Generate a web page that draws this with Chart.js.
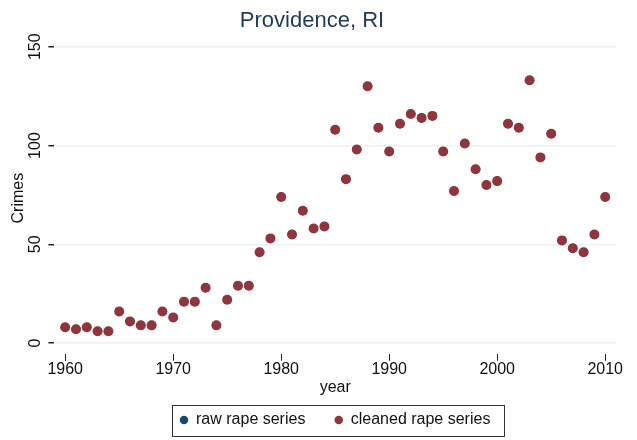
<!DOCTYPE html>
<html>
<head>
<meta charset="utf-8">
<script src="https://cdn.jsdelivr.net/npm/chart.js@4"></script>
<style>
  html, body { margin: 0; padding: 0; background: #fff; }
  #wrap { width: 637px; height: 440px; }
</style>
</head>
<body>
<div id="wrap"><canvas id="crime-chart" width="637" height="440"></canvas></div>
<script>
const years = [
  1960, 1961, 1962, 1963, 1964, 1965, 1966, 1967, 1968, 1969,
  1970, 1971, 1972, 1973, 1974, 1975, 1976, 1977, 1978, 1979,
  1980, 1981, 1982, 1983, 1984, 1985, 1986, 1987, 1988, 1989,
  1990, 1991, 1992, 1993, 1994, 1995, 1996, 1997, 1998, 1999,
  2000, 2001, 2002, 2003, 2004, 2005, 2006, 2007, 2008, 2009, 2010
];
const rawRape = [
  8, 7, 8, 6, 6, 16, 11, 9, 9, 16,
  13, 21, 21, 28, 9, 22, 29, 29, 46, 53,
  74, 55, 67, 58, 59, 108, 83, 98, 130, 109,
  97, 111, 116, 114, 115, 97, 77, 101, 88, 80,
  82, 111, 109, 133, 94, 106, 52, 48, 46, 55, 74
];
const cleanedRape = [
  8, 7, 8, 6, 6, 16, 11, 9, 9, 16,
  13, 21, 21, 28, 9, 22, 29, 29, 46, 53,
  74, 55, 67, 58, 59, 108, 83, 98, 130, 109,
  97, 111, 116, 114, 115, 97, 77, 101, 88, 80,
  82, 111, 109, 133, 94, 106, 52, 48, 46, 55, 74
];
const xTicks = [1960, 1970, 1980, 1990, 2000, 2010];
const yTicks = [0, 50, 100, 150];

const FONT = "'Liberation Sans', Arial, sans-serif";

function toPoints(ys) {
  return years.map((y, i) => ({ x: y, y: ys[i] }));
}

// box round the legend, like Stata draws it
const legendBox = {
  id: "legendBox",
  afterDraw(chart) {
    const lg = chart.legend;
    if (!lg || !lg.legendHitBoxes || !lg.legendHitBoxes.length) return;
    const boxes = lg.legendHitBoxes;
    const l = Math.min(...boxes.map((b) => b.left));
    const r = Math.max(...boxes.map((b) => b.left + b.width));
    const t = Math.min(...boxes.map((b) => b.top));
    const bt = Math.max(...boxes.map((b) => b.top + b.height));
    const ctx = chart.ctx;
    ctx.save();
    ctx.strokeStyle = "#333";
    ctx.lineWidth = 1;
    ctx.strokeRect(Math.round(l - 8) + 0.5, Math.round(t - 7) + 0.5, Math.round(r - l + 22), Math.round(bt - t + 15));
    ctx.restore();
  },
};

document.addEventListener("DOMContentLoaded", () => {
  const el = document.getElementById("crime-chart");
  new Chart(el, {
    type: "scatter",
    data: {
      datasets: [
        {
          label: "raw rape series",
          data: toPoints(rawRape),
          backgroundColor: "#1a476f",
          borderColor: "#1a476f",
          borderWidth: 0,
          pointRadius: 4.5,
          pointHoverRadius: 4.5,
          order: 2,
        },
        {
          label: "cleaned rape series",
          data: toPoints(cleanedRape),
          backgroundColor: "#90353b",
          borderColor: "#90353b",
          borderWidth: 0,
          pointRadius: 5,
          pointHoverRadius: 5,
          order: 1,
        },
      ],
    },
    options: {
      responsive: false,
      animation: false,
      layout: { padding: { left: 8, right: 21, top: 2, bottom: 4 } },
      plugins: {
        title: {
          display: true,
          text: "Providence, RI",
          color: "#1f3a5f",
          font: { family: FONT, size: 22, weight: "normal" },
          padding: { top: 6, bottom: 8 },
        },
        legend: {
          position: "bottom",
          fullSize: false,
          maxHeight: 40,
          labels: {
            usePointStyle: true,
            pointStyle: "circle",
            boxWidth: 8,
            boxHeight: 6,
            padding: 16,
            color: "#111",
            font: { family: FONT, size: 16 },
            sort: (a, b) => a.datasetIndex - b.datasetIndex,
            generateLabels: (chart) => {
              const items = Chart.defaults.plugins.legend.labels.generateLabels(chart);
              // stata leaves a wide gap between keys
              items.forEach((it) => {
                if (it.datasetIndex === 0) it.text = it.text + "   ";
              });
              return items;
            },
          },
        },
        tooltip: { enabled: false },
      },
      scales: {
        x: {
          type: "linear",
          min: 1959,
          max: 2011,
          afterBuildTicks: (axis) => {
            axis.ticks = xTicks.map((v) => ({ value: v }));
          },
          ticks: {
            color: "#111",
            font: { family: FONT, size: 16, lineHeight: 1.1 },
            maxRotation: 0,
            padding: 0,
            callback: (v) => v,
          },
          grid: {
            drawOnChartArea: false,
            tickColor: "#222",
            tickLength: 7,
          },
          border: { display: false },
          title: {
            display: true,
            text: "year",
            color: "#111",
            font: { family: FONT, size: 16, lineHeight: 1.1 },
            padding: { top: 0, bottom: 0 },
          },
        },
        y: {
          min: -5.4,
          max: 152.2,
          afterBuildTicks: (axis) => {
            axis.ticks = yTicks.map((v) => ({ value: v }));
          },
          ticks: {
            color: "#111",
            font: { family: FONT, size: 16 },
            minRotation: 90,
            maxRotation: 90,
            crossAlign: "center",
            padding: -1,
          },
          grid: {
            color: "#eaf2f3",
            lineWidth: 1.5,
            tickColor: "#222",
            tickLength: 6,
          },
          border: { display: false },
          title: {
            display: true,
            text: "Crimes",
            color: "#111",
            font: { family: FONT, size: 16 },
            padding: { top: 1, bottom: 3 },
          },
        },
      },
    },
    plugins: [legendBox],
  });
});
</script>
</body>
</html>
